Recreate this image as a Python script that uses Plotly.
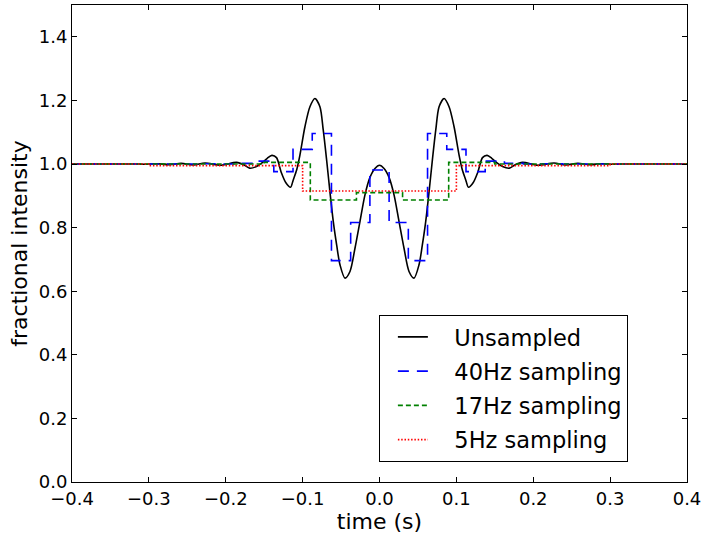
import plotly.graph_objects as go

# unsampled curve
t_raw = [-0.40, -0.35, -0.32, -0.305, -0.29, -0.273, -0.258, -0.242, -0.227, -0.206,
         -0.186, -0.176, -0.169, -0.160, -0.152, -0.146, -0.140, -0.134, -0.128, -0.122,
         -0.1157, -0.1122, -0.1078, -0.1035, -0.097, -0.0905, -0.084, -0.0775, -0.0732,
         -0.0688, -0.0645, -0.0601, -0.0557, -0.0514, -0.0449, -0.0384, -0.0319, -0.0254,
         -0.0189, -0.0124, -0.0059, 0.0,
         0.0059, 0.0124, 0.0189, 0.0254, 0.0319, 0.0384, 0.0449, 0.0514, 0.0557, 0.0601,
         0.0645, 0.0688, 0.0732, 0.0775, 0.084, 0.0905, 0.097, 0.1035, 0.1078, 0.1122,
         0.1157, 0.122, 0.128, 0.134, 0.140, 0.146, 0.152, 0.160, 0.169, 0.176, 0.186,
         0.206, 0.227, 0.242, 0.258, 0.273, 0.29, 0.305, 0.32, 0.35, 0.40]
i_raw = [1.000, 1.000, 1.000, 0.999, 1.001, 0.998, 1.002, 0.997, 1.003, 0.996,
         1.005, 0.997, 0.987, 0.992, 1.005, 1.018, 1.027, 1.020, 0.975, 0.942,
         0.927, 0.950, 0.981, 1.028, 1.117, 1.180, 1.206, 1.180, 1.107,
         1.013, 0.913, 0.819, 0.745, 0.683, 0.641, 0.662, 0.735, 0.819,
         0.903, 0.958, 0.986, 0.996,
         0.986, 0.958, 0.903, 0.819, 0.735, 0.662, 0.641, 0.683, 0.745, 0.819,
         0.913, 1.013, 1.107, 1.180, 1.206, 1.180, 1.117, 1.028, 0.981, 0.950,
         0.927, 0.942, 0.975, 1.020, 1.027, 1.018, 1.005, 0.992, 0.987, 0.997, 1.005,
         0.996, 1.003, 0.997, 1.002, 0.998, 1.001, 0.999, 1.000, 1.000, 1.000]

# 40Hz samples
t_40 = [-0.400, -0.375, -0.350, -0.325, -0.300, -0.275, -0.250, -0.225, -0.200, -0.175,
        -0.150, -0.125, -0.100, -0.075, -0.050, -0.025, 0.000, 0.025, 0.050, 0.075,
        0.100, 0.125, 0.150, 0.175, 0.200, 0.225, 0.250, 0.275, 0.300, 0.325,
        0.350, 0.375, 0.400]
i_40 = [1.000, 1.000, 1.000, 1.000, 1.000, 1.000, 1.000, 1.001, 1.000, 1.002,
        1.009, 0.976, 1.046, 1.096, 0.696, 0.816, 0.981, 0.816, 0.696, 1.096,
        1.046, 0.976, 1.009, 1.002, 1.000, 1.001, 1.000, 1.000, 1.000, 1.000,
        1.000, 1.000, 1.000]

# 17Hz samples
t_17 = [-0.42, -0.36, -0.30, -0.24, -0.18, -0.12, -0.06, 0.00, 0.06, 0.12, 0.18,
        0.24, 0.30, 0.36, 0.42]
i_17 = [1.000, 1.000, 1.000, 1.000, 1.000, 1.005, 0.887, 0.910, 0.887, 1.005, 1.000,
        1.000, 1.000, 1.000, 1.000]

# 5Hz samples
t_5 = [-0.4, -0.2, 0.0, 0.2, 0.4]
i_5 = [1.000, 0.995, 0.915, 0.995, 1.000]

names = ["Unsampled", "40Hz sampling", "17Hz sampling", "5Hz sampling"]
pad = "\u00a0" * 3
font_name = "DejaVu Sans"

fig = go.Figure()
fig.add_trace(go.Scatter(x=t_raw, y=i_raw, mode="lines", name=pad + names[0], legendgroup="a",
                         line=dict(color="black", width=1.6, shape="spline", smoothing=0.8)))
fig.add_trace(go.Scatter(x=t_40, y=i_40, mode="lines", name=pad + names[1], legendgroup="b",
                         line=dict(color="#0000ff", width=1.6, shape="hvh", dash="11px,8px")))
fig.add_trace(go.Scatter(x=t_17, y=i_17, mode="lines", name=pad + names[2], legendgroup="c",
                         line=dict(color="#008000", width=1.6, shape="hvh", dash="5px,3px")))
fig.add_trace(go.Scatter(x=t_5, y=i_5, mode="lines", name=pad + names[3], legendgroup="d",
                         line=dict(color="#ff0000", width=1.6, shape="hvh", dash="1.5px,1.8px")))

axis_style = dict(showline=True, linecolor="black", linewidth=1, mirror="ticks",
                  ticks="inside", ticklen=5, tickcolor="black", showgrid=False,
                  zeroline=False, tickformat=".1f")

fig.update_layout(
    width=705, height=536,
    margin=dict(l=72, r=18, t=5, b=54),
    paper_bgcolor="white", plot_bgcolor="white",
    font=dict(family=font_name, size=18, color="black"),
    xaxis=dict(range=[-0.4, 0.4], dtick=0.1, title=dict(text="time (s)", standoff=6), **axis_style),
    yaxis=dict(range=[0, 1.5], dtick=0.2, title=dict(text="fractional intensity", standoff=5),
               **axis_style),
    legend=dict(x=0.499, y=0.3506, xanchor="left", yanchor="top",
                bordercolor="black", borderwidth=1, bgcolor="white",
                font=dict(family=font_name, size=22.5), itemwidth=30, tracegroupgap=2,
                indentation=13),
    showlegend=True,
)

fig.write_html("out.html", post_script="document.body.style.margin='0';",
               config={"displayModeBar": False})
